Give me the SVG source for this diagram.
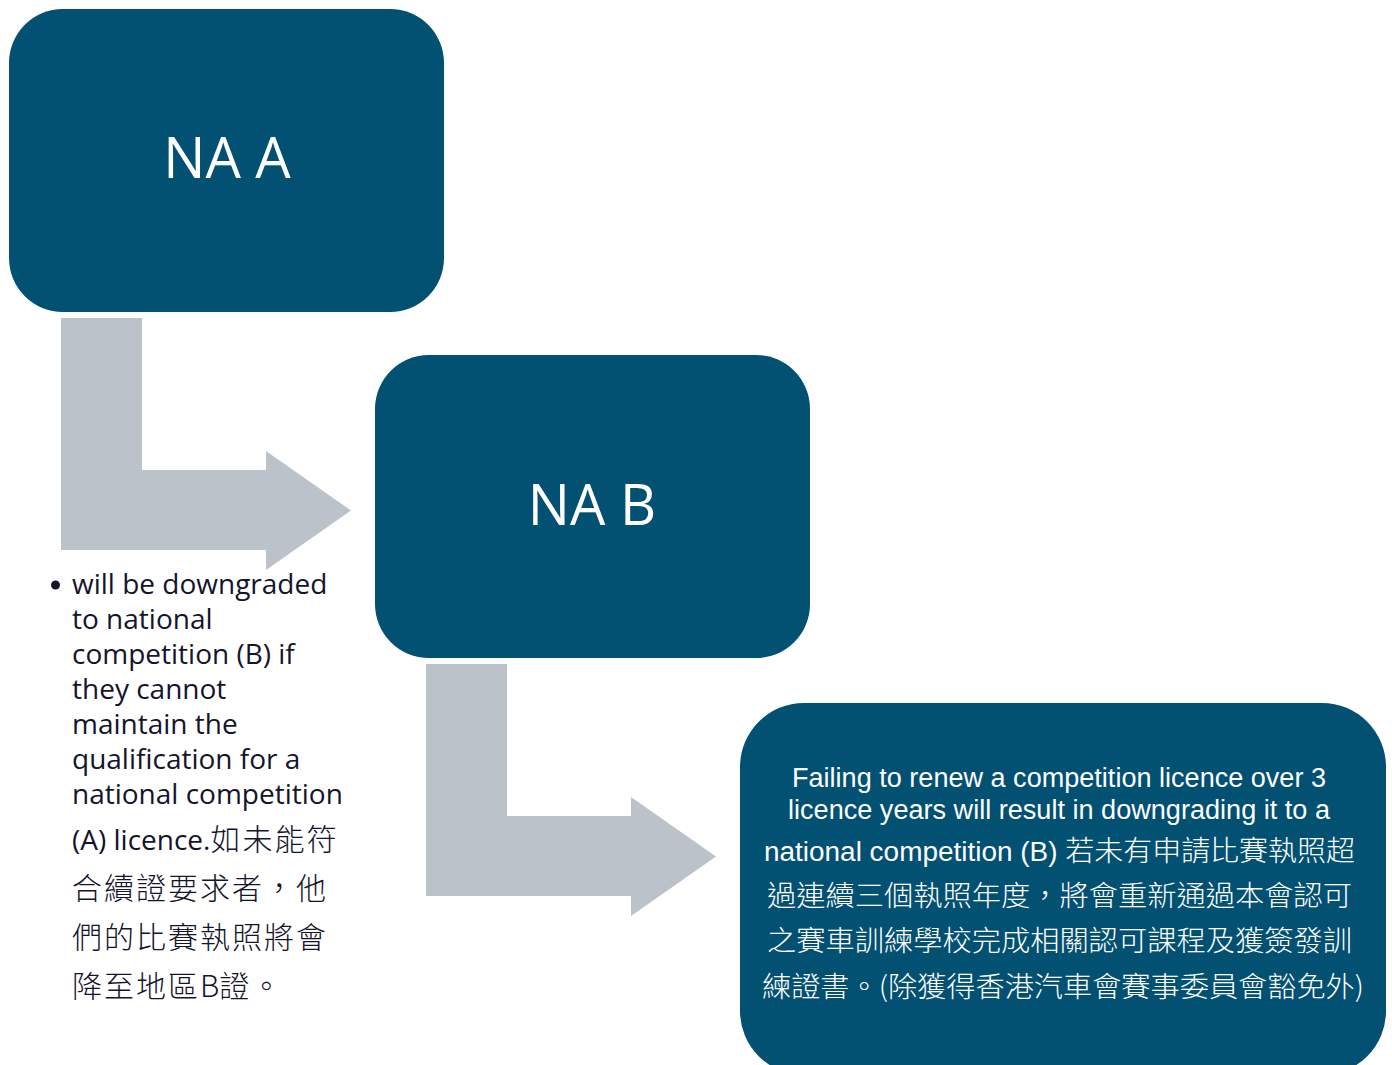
<svg xmlns="http://www.w3.org/2000/svg" width="1392" height="1065" viewBox="0 0 1392 1065" xml:lang="zh-Hant">
<style>
.box{fill:#025072}
.arrow{fill:#BCC2CA}
.title{font-family:"Open Sans","Noto Sans",sans-serif;font-size:56px;fill:#FFFFFF;text-anchor:middle}
.body{font-family:"Open Sans","Noto Sans","Noto Sans CJK TC",sans-serif;font-size:28px;fill:#14142B}
.cjk{font-family:"Noto Sans CJK TC","Noto Sans CJK SC",sans-serif;font-size:30px;font-weight:300}
.wt{font-family:"Liberation Sans","Open Sans","Noto Sans CJK TC",sans-serif;font-size:27px;fill:#FFFFFF}
.wcjk{font-family:"Noto Sans CJK TC","Noto Sans CJK SC",sans-serif;font-size:28px;font-weight:300}
</style>
<rect width="1392" height="1065" fill="#FFFFFF"/>
<g id="connectors">
<path class="arrow" d="M61 318 H142 V470 H266 V451 L351 510.5 L266 570 V550 H61 Z"/>
<path class="arrow" d="M426 664 H507 V816 H631 V797 L716 856.5 L631 916 V896 H426 Z"/>
</g>
<g id="node-na-a">
<rect class="box" x="9" y="9" width="435" height="303" rx="54"/>
<text class="title" x="227" y="178">NA A</text>
</g>
<g id="node-na-b">
<rect class="box" x="375" y="355" width="435" height="303" rx="54"/>
<text class="title" x="592" y="525">NA B</text>
</g>
<g id="node-na-b-note">
<circle cx="55.5" cy="585" r="4.5" fill="#14142B"/>
<text class="body">
<tspan x="72" y="594">will be downgraded</tspan>
<tspan x="72" y="629">to national</tspan>
<tspan x="72" y="664">competition (B) if</tspan>
<tspan x="72" y="699">they cannot</tspan>
<tspan x="72" y="734">maintain the</tspan>
<tspan x="72" y="769">qualification for a</tspan>
<tspan x="72" y="804">national competition</tspan>
</text>
<text class="body" x="72" y="850">(A) licence.<tspan class="cjk" letter-spacing="2">如未能符</tspan></text>
<text class="body cjk" x="72" y="899" letter-spacing="2">合續證要求者，他</text>
<text class="body cjk" x="72" y="948" letter-spacing="2">們的比賽執照將會</text>
<text class="body cjk" x="72" y="997" letter-spacing="2">降至地區<tspan letter-spacing="0">B</tspan>證。</text>
</g>
<g id="node-local">
<rect class="box" x="740" y="703" width="646" height="372" rx="64"/>
<text class="wt" x="792" y="787" textLength="534" lengthAdjust="spacingAndGlyphs">Failing to renew a competition licence over 3</text>
<text class="wt" x="788" y="819" textLength="542" lengthAdjust="spacingAndGlyphs">licence years will result in downgrading it to a</text>
<text class="wt" x="764" y="861" textLength="591" lengthAdjust="spacingAndGlyphs">national competition (B) <tspan class="wcjk">若未有申請比賽執照超</tspan></text>
<text class="wt wcjk" x="767" y="906" textLength="585" lengthAdjust="spacingAndGlyphs">過連續三個執照年度，將會重新通過本會認可</text>
<text class="wt wcjk" x="767" y="951" textLength="585" lengthAdjust="spacingAndGlyphs">之賽車訓練學校完成相關認可課程及獲簽發訓</text>
<text class="wt wcjk" x="762" y="997" textLength="602" lengthAdjust="spacingAndGlyphs">練證書。(除獲得香港汽車會賽事委員會豁免外)</text>
</g>
</svg>
